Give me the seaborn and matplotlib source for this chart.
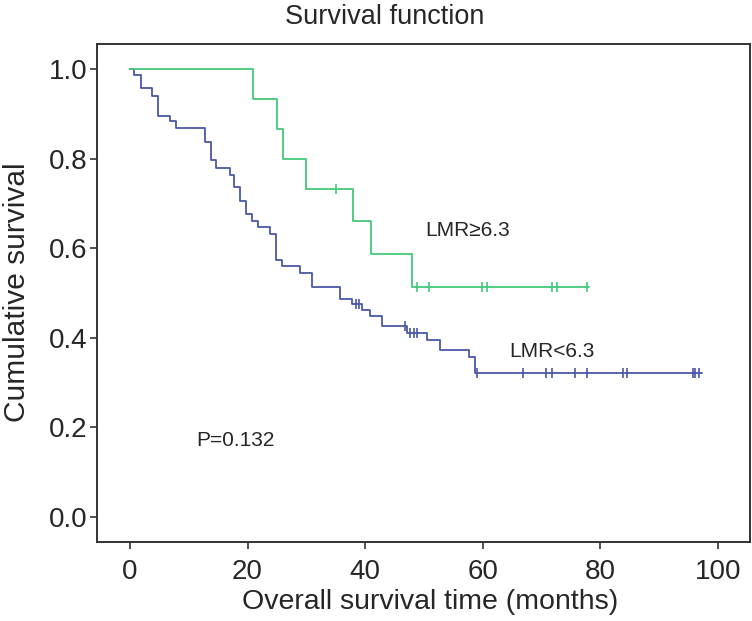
import matplotlib
matplotlib.use("Agg")
import matplotlib.pyplot as plt
from matplotlib import font_manager
import seaborn as sns
import pandas as pd

# ---- data ----
high_times = [0, 21, 25, 26, 30, 38, 41, 48, 78]
high_surv = [1.0, 0.933, 0.867, 0.800, 0.733, 0.660, 0.587, 0.513, 0.513]
high_cens_times = [35, 48.8, 50.9, 59.8, 60.7, 71.7, 72.6, 77.8]
high_cens_surv = [0.733, 0.513, 0.513, 0.513, 0.513, 0.513, 0.513, 0.513]

low_times = [0, 0.7, 1.9, 3.7, 4.8, 6.8, 7.9, 12.8, 13.8, 14.7, 17.0, 17.7,
             18.8, 19.7, 20.7, 21.8, 23.8, 24.8, 25.8, 28.9, 30.9, 35.7,
             37.8, 39.5, 40.8, 42.8, 47.1, 50.6, 52.7, 57.6, 58.7, 97.3]
low_surv = [1.0, 0.986, 0.958, 0.940, 0.896, 0.884, 0.869, 0.838, 0.797,
            0.779, 0.763, 0.736, 0.706, 0.676, 0.661, 0.648, 0.632, 0.573,
            0.560, 0.545, 0.514, 0.487, 0.476, 0.462, 0.448, 0.425, 0.411,
            0.394, 0.373, 0.356, 0.320, 0.320]
low_cens_times = [38.5, 39.0, 46.8, 47.7, 48.3, 48.9, 59.0, 66.8, 70.7, 71.7,
                  75.7, 77.7, 83.8, 84.6, 95.7, 96.1, 96.8]
low_cens_surv = [0.476, 0.476, 0.425, 0.411, 0.411, 0.411, 0.320, 0.320,
                 0.320, 0.320, 0.320, 0.320, 0.320, 0.320, 0.320, 0.320, 0.320]

x_ticks = [0, 20, 40, 60, 80, 100]
y_ticks = [0.0, 0.2, 0.4, 0.6, 0.8, 1.0]
y_tick_labels = ["0.0", "0.2", "0.4", "0.6", "0.8", "1.0"]

title = "Survival function"
x_label = "Overall survival time (months)"
y_label = "Cumulative survival"
label_high = "LMR≥6.3"
label_low = "LMR<6.3"
p_text = "P=0.132"

green = "#44c878"
blue = "#4a58a8"

# ---- style ----
sns.set_theme(style="white")
names = {f.name for f in font_manager.fontManager.ttflist}
main_font = "Liberation Sans Narrow" if "Liberation Sans Narrow" in names else "Liberation Sans"
plt.rcParams["font.family"] = [main_font, "DejaVu Sans"]

fig = plt.figure(figsize=(7.52, 6.21), dpi=100)
ax = fig.add_axes([0.129, 0.1277, 0.868, 0.802])

high_df = pd.DataFrame({"t": high_times, "s": high_surv})
low_df = pd.DataFrame({"t": low_times, "s": low_surv})

sns.lineplot(data=low_df, x="t", y="s", ax=ax, color=blue, lw=1.3,
             drawstyle="steps-post", sort=False, estimator=None)
sns.lineplot(data=high_df, x="t", y="s", ax=ax, color=green, lw=1.3,
             drawstyle="steps-post", sort=False, estimator=None)

sns.scatterplot(x=low_cens_times, y=low_cens_surv, ax=ax, marker="|",
                s=60, color=blue, linewidth=1.2)
sns.scatterplot(x=high_cens_times, y=high_cens_surv, ax=ax, marker="|",
                s=60, color=green, linewidth=1.2)

ax.set_xlim(-5.6, 105.4)
ax.set_ylim(-0.056, 1.057)
ax.set_xticks(x_ticks)
ax.set_xticklabels([str(v) for v in x_ticks])
ax.set_yticks(y_ticks)
ax.set_yticklabels(y_tick_labels)
ax.tick_params(axis="both", direction="out", length=5, width=1.2,
               color="#333333", labelsize=20, bottom=True, left=True)
ax.tick_params(axis="x", pad=7.5)
ax.tick_params(axis="y", pad=2)

for sp in ax.spines.values():
    sp.set_visible(True)
    sp.set_color("#333333")
    sp.set_linewidth(1.4)

ax.set_xlabel(x_label, fontsize=20.5, va="center")
ax.xaxis.set_label_coords(0.51, -0.1205)
ax.set_ylabel(y_label, fontsize=21.5, va="center")
ax.yaxis.set_label_coords(-0.1226, 0.5)
fig.text(0.512, 0.9726, title, fontsize=19.5, ha="center", va="center")

ax.text(50.2, 0.64, label_high, fontsize=15, ha="left", va="center")
ax.text(64.5, 0.37, label_low, fontsize=15, ha="left", va="center")
ax.text(11.2, 0.17, p_text, fontsize=15, ha="left", va="center")

fig.savefig("out.png", dpi=100)
